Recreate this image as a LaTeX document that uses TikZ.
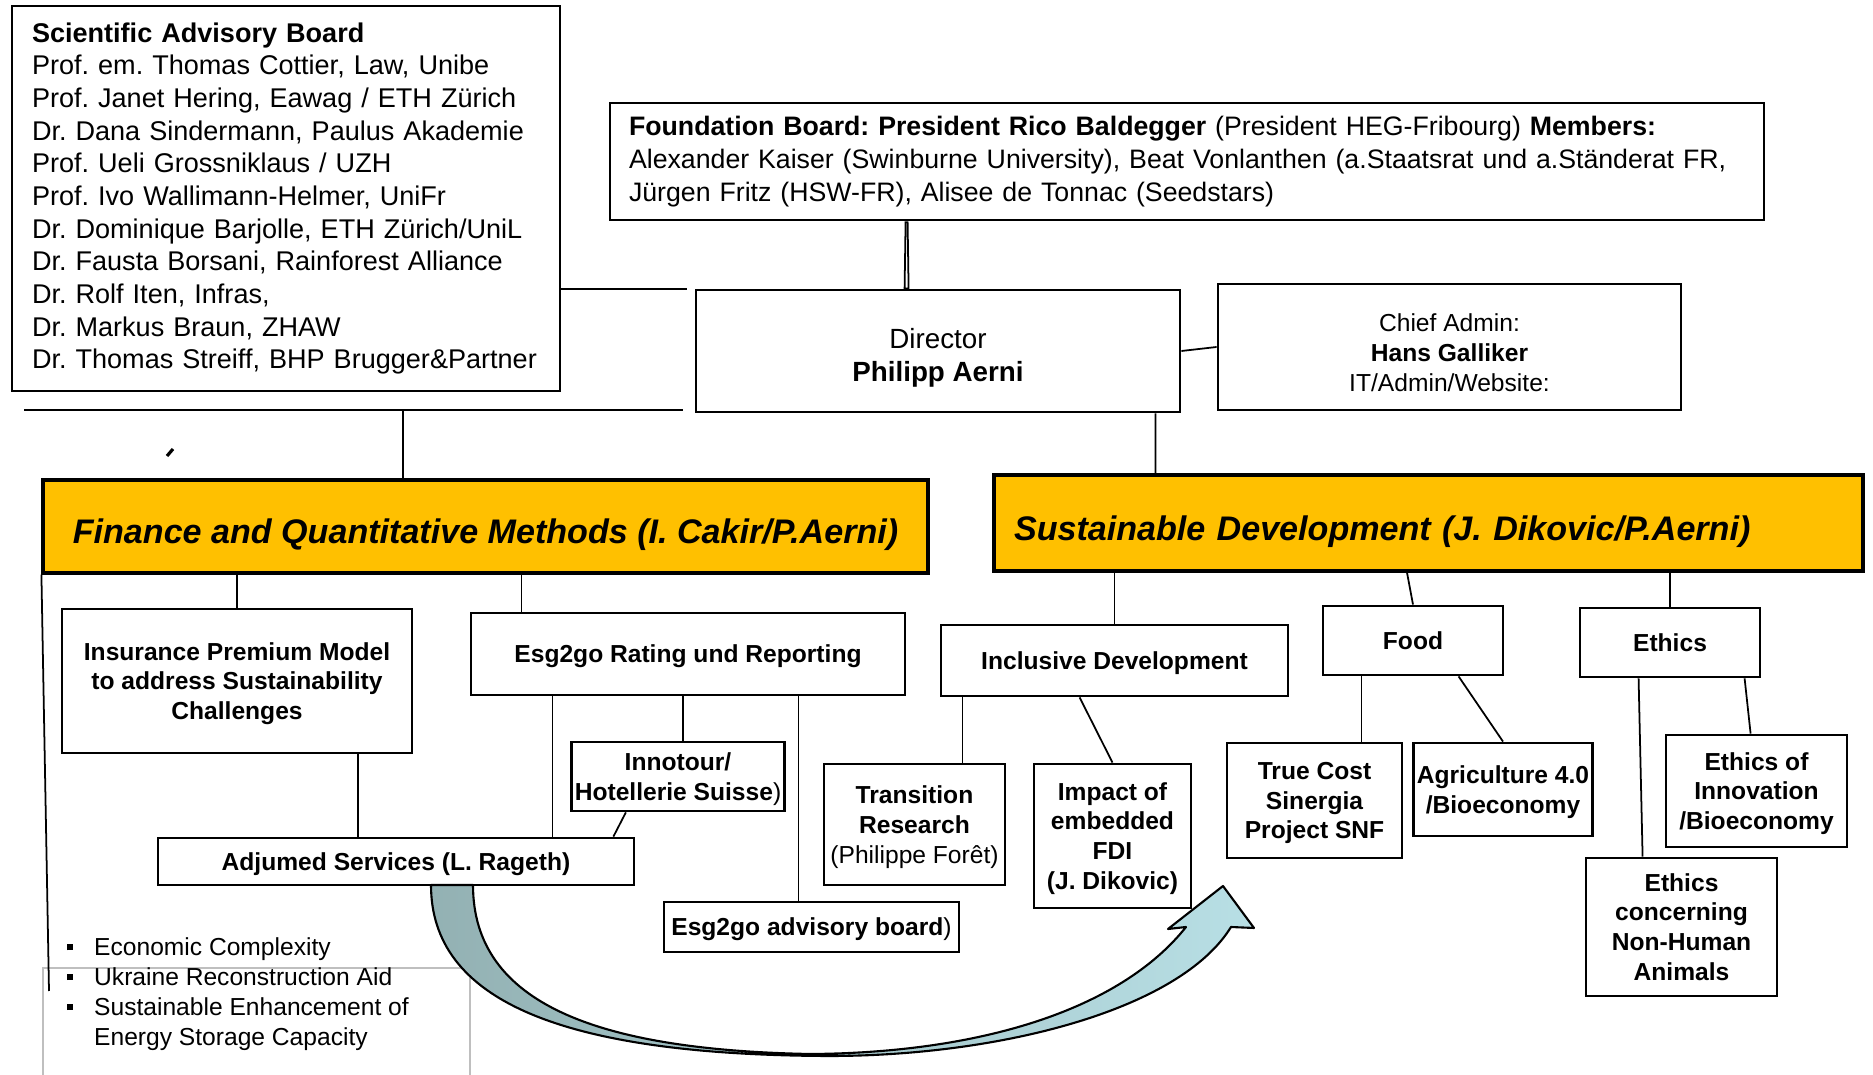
\documentclass[tikz,border=0pt]{standalone}
\usepackage{fontspec}
\setmainfont{Liberation Sans}
\usepackage{tikz}
\usetikzlibrary{positioning}
\definecolor{orgYellow}{HTML}{FFC000}
\definecolor{arrowDark}{HTML}{93B1B3}
\definecolor{arrowLight}{HTML}{B8DFE5}
\newcommand{\bulletmark}{\makebox[0.275cm][l]{\rule[1.5pt]{1.7pt}{1.7pt}}}
\frenchspacing

\begin{document}
\begin{tikzpicture}[
	orgbox/.style={rectangle, draw=black, line width=0.8pt, fill=white, inner sep=1pt, align=center, text depth=0pt, font=\fontsize{7}{8.5}\selectfont\bfseries},
	titlebox/.style={rectangle, draw=black, line width=0.9pt, fill=orgYellow, text height=9.7pt, text depth=0pt, font=\fontsize{9.7}{11}\selectfont\bfseries\itshape},
	link/.style={line width=0.5pt}]
		\useasboundingbox (0,0) rectangle (18.73,-10.75);

		% boards and direction
		\node[rectangle, draw=black, line width=0.8pt, text width=5.08cm, inner xsep=0.2cm, minimum height=3.85cm, align=left, font=\fontsize{7.7}{9.3}\selectfont](sabBox) at (2.86,-1.985){\textbf{Scientific Advisory Board}\\ Prof. em. Thomas Cottier, Law, Unibe\\ Prof. Janet Hering, Eawag / ETH Zürich\\ Dr. Dana Sindermann, Paulus Akademie\\ Prof. Ueli Grossniklaus / UZH\\ Prof. Ivo Wallimann-Helmer, UniFr\\ Dr. Dominique Barjolle, ETH Zürich/UniL\\ Dr. Fausta Borsani, Rainforest Alliance\\ Dr. Rolf Iten, Infras,\\ Dr. Markus Braun, ZHAW\\ Dr. Thomas Streiff, BHP Brugger\&Partner};
		\node[rectangle, draw=black, line width=0.8pt, text width=11.16cm, inner xsep=0.19cm, minimum height=1.17cm, align=left, font=\fontsize{7.6}{9.3}\selectfont](fbBox) at (11.87,-1.615){\textbf{Foundation Board: President Rico Baldegger} (President HEG-Fribourg) \textbf{Members:}\\ Alexander Kaiser (Swinburne University), Beat Vonlanthen (a.Staatsrat und a.Ständerat FR,\\ Jürgen Fritz (HSW-FR), Alisee de Tonnac (Seedstars)};
		\node[orgbox, minimum width=4.84cm, minimum height=1.22cm, text height=17.4pt, font=\fontsize{7.9}{9.5}\selectfont](dirBox) at (9.38,-3.51){Director\\ \textbf{Philipp Aerni}};
		\node[orgbox, minimum width=4.63cm, minimum height=1.26cm, text height=25.4pt, font=\fontsize{7}{8.5}\selectfont](adminBox) at (14.495,-3.47){Chief Admin:\\ \textbf{Hans Galliker}\\ IT/Admin/Website:};

		% research fields
		\node[titlebox, minimum width=8.85cm, minimum height=0.93cm](finBox) at (4.855,-5.265){Finance and Quantitative Methods (I. Cakir/P.Aerni)};
		\node[titlebox, text width=8.29cm, inner xsep=0.2cm, minimum height=0.96cm, align=left](sdBox) at (14.285,-5.23){Sustainable Development (J. Dikovic/P.Aerni)};

		% finance projects
		\node[orgbox, minimum width=3.50cm, minimum height=1.44cm](insBox) at (2.37,-6.81){Insurance Premium Model\\ to address Sustainability\\ Challenges};
		\node[orgbox, minimum width=4.34cm, minimum height=0.82cm](esgBox) at (6.88,-6.54){Esg2go Rating und Reporting};
		\node[orgbox, minimum width=2.12cm, minimum height=0.69cm](innoBox) at (6.78,-7.765){Innotour/\\ Hotellerie Suisse{\mdseries )}};
		\node[orgbox, minimum width=4.76cm, minimum height=0.47cm](adjBox) at (3.96,-8.615){Adjumed Services (L. Rageth)};
		\node[orgbox, minimum width=2.95cm, minimum height=0.50cm](advBox) at (8.115,-9.27){Esg2go advisory board{\mdseries )}};

		% sustainable development projects
		\node[orgbox, minimum width=3.47cm, minimum height=0.71cm](inclBox) at (11.145,-6.605){Inclusive Development};
		\node[orgbox, minimum width=1.81cm, minimum height=1.21cm](transBox) at (9.145,-8.245){Transition\\ Research\\ {\mdseries (Philippe Forêt)}};
		\node[orgbox, minimum width=1.57cm, minimum height=1.44cm](fdiBox) at (11.125,-8.36){Impact of\\ embedded\\ FDI\\ (J. Dikovic)};
		\node[orgbox, minimum width=1.80cm, minimum height=0.69cm](foodBox) at (14.13,-6.405){Food};
		\node[orgbox, minimum width=1.80cm, minimum height=0.69cm](ethBox) at (16.70,-6.425){Ethics};
		\node[orgbox, minimum width=1.75cm, minimum height=1.15cm](trueBox) at (13.145,-8.005){True Cost\\ Sinergia\\ Project SNF};
		\node[orgbox, minimum width=1.78cm, minimum height=0.93cm](agriBox) at (15.03,-7.895){Agriculture 4.0\\ /Bioeconomy};
		\node[orgbox, minimum width=1.81cm, minimum height=1.12cm](innoEthBox) at (17.565,-7.91){Ethics of\\ Innovation\\ /Bioeconomy};
		\node[orgbox, minimum width=1.91cm, minimum height=1.38cm](animBox) at (16.815,-9.27){Ethics\\ concerning\\ Non-Human\\ Animals};

		% topics list
		\draw[black!25, line width=0.4pt] (0.43,-10.80) -- (0.43,-9.68) -- (4.70,-9.68) -- (4.70,-10.80);
		\node[anchor=west, inner sep=0pt, align=left, font=\fontsize{7}{8.5}\selectfont](listBox) at (0.66,-9.94){\bulletmark Economic Complexity\\ \bulletmark Ukraine Reconstruction Aid\\ \bulletmark Sustainable Enhancement of\\ \hspace*{0.275cm}Energy Storage Capacity};

		% draw board links
		\coordinate (sabEnd) at (6.87,-2.89);
		\coordinate (busLeft) at (0.24,-4.10);
		\coordinate (busRight) at (6.83,-4.10);
		\coordinate (busDrop) at (4.03,-4.10);
		\draw[link] (sabBox.east |- sabEnd) -- (sabEnd);
		\draw[link] (busLeft) -- (busRight);
		\draw[link] (busDrop) -- (busDrop |- finBox.north);
		\draw[link] ([xshift=2.97cm]fbBox.south west) -- ([xshift=2.10cm]dirBox.north west) -- ([xshift=2.14cm]dirBox.north west) -- ([xshift=2.99cm]fbBox.south west);
		\draw[link] (dirBox.east) -- (adminBox.west);
		\draw[link] ([xshift=-0.26cm]dirBox.south east) -- ([xshift=1.63cm]sdBox.north west);
		\draw[line width=0.9pt] (1.67,-4.56) -- (1.73,-4.49);

		% draw finance links
		\coordinate (finEnd) at (0.49,-9.91);
		\draw[link] (finBox.south west) -- (finEnd);
		\draw[link] (insBox.north |- finBox.south) -- (insBox.north);
		\draw[link] ([xshift=0.52cm]esgBox.north west |- finBox.south) -- ([xshift=0.52cm]esgBox.north west);
		\draw[link] ([xshift=1.21cm]insBox.south) -- ([xshift=1.21cm]insBox.south |- adjBox.north);
		\draw[link] ([xshift=0.83cm]esgBox.south west) -- ([xshift=0.83cm]esgBox.south west |- adjBox.north);
		\draw[link] ([xshift=0.05cm]innoBox.north |- esgBox.south) -- ([xshift=0.05cm]innoBox.north);
		\draw[link] ([xshift=0.56cm]innoBox.south west) -- ([xshift=-0.22cm]adjBox.north east);
		\draw[link] ([xshift=1.36cm]advBox.north west |- esgBox.south) -- ([xshift=1.36cm]advBox.north west);

		% draw sustainable development links
		\draw[link] (inclBox.north |- sdBox.south) -- (inclBox.north);
		\draw[link] ([xshift=-0.06cm]foodBox.north |- sdBox.south) -- (foodBox.north);
		\draw[link] (ethBox.north |- sdBox.south) -- (ethBox.north);
		\draw[link] ([xshift=0.23cm]inclBox.south west) -- ([xshift=0.23cm]inclBox.south west |- transBox.north);
		\draw[link] ([xshift=1.40cm]inclBox.south west) -- (fdiBox.north);
		\draw[link] ([xshift=0.40cm]foodBox.south west) -- ([xshift=0.40cm]foodBox.south west |- trueBox.north);
		\draw[link] ([xshift=1.37cm]foodBox.south west) -- (agriBox.north);
		\draw[link] ([xshift=0.60cm]ethBox.south west) -- ([xshift=0.58cm]animBox.north west);
		\draw[link] ([xshift=1.66cm]ethBox.south west) -- ([xshift=0.86cm]innoEthBox.north west);

		% curved transfer arrow
		\shadedraw[left color=arrowDark, right color=arrowLight, line width=0.6pt, line join=round] (4.31,-8.85) .. controls (4.31,-10.00) and (5.60,-10.55) .. (8.29,-10.56) .. controls (10.00,-10.56) and (11.80,-10.10) .. (12.31,-9.27) -- (12.54,-9.28) -- (12.23,-8.86) -- (11.68,-9.29) -- (11.86,-9.27) .. controls (11.20,-10.10) and (9.80,-10.53) .. (8.10,-10.54) .. controls (6.00,-10.50) and (4.73,-10.05) .. (4.73,-8.85) -- cycle;
	\end{tikzpicture}
\end{document}
